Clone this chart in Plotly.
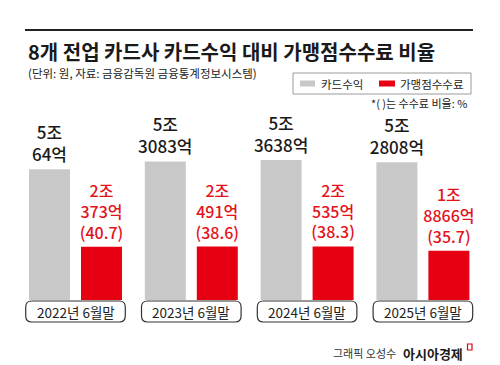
import plotly.graph_objects as go

# ---- data (unit: 억 원) ----
periods = ["2022년 6월말", "2023년 6월말", "2024년 6월말", "2025년 6월말"]
card_revenue = [50064, 53083, 53638, 52808]      # 카드수익
merchant_fee = [20373, 20491, 20535, 18866]      # 가맹점수수료
fee_ratio = [40.7, 38.6, 38.3, 35.7]             # 수수료 비율 (%)
series_names = ["카드수익", "가맹점수수료"]

FONT = "Noto Sans CJK KR"
GRAY = "#c8c8c8"
RED = "#e60012"
RED_TXT = "#e3121b"
OFF = 8                 # page body margin offset
W, H = 500 - OFF, 365 - OFF


def fmt(v):
    jo, eok = divmod(v, 10000)
    return f"{jo}조<br>{eok}억"


def px(xp):
    return (xp - OFF) / W


def py(yp):
    return (H - (yp - OFF)) / H


xs = list(range(len(periods)))
fig = go.Figure()
fig.add_bar(
    x=xs, y=[v / 10000 for v in card_revenue], name=series_names[0],
    marker=dict(color=GRAY, line=dict(width=0)),
    text=[fmt(v) for v in card_revenue], textposition="outside",
    textfont=dict(family=FONT, size=17, color="#1a1a1a", weight=500),
    constraintext="none", cliponaxis=False, showlegend=False,
)
fig.add_bar(
    x=xs, y=[v / 10000 for v in merchant_fee], name=series_names[1],
    marker=dict(color=RED, line=dict(width=0)),
    text=[f"{fmt(v)}<br>({r})" for v, r in zip(merchant_fee, fee_ratio)],
    textposition="outside",
    textfont=dict(family=FONT, size=16, color=RED_TXT, weight=500),
    constraintext="none", cliponaxis=False, showlegend=False,
)

shapes = []
annotations = []

UNIT = 115.8  # px per category
rx = 6 / UNIT
ry = 6 / H
for i in xs:
    x0, x1 = i - 0.43, i + 0.43
    y0, y1 = py(322), py(301)
    path = (f"M {x0+rx},{y1} L {x1-rx},{y1} Q {x1},{y1} {x1},{y1-ry} "
            f"L {x1},{y0+ry} Q {x1},{y0} {x1-rx},{y0} L {x0+rx},{y0} "
            f"Q {x0},{y0} {x0},{y0+ry} L {x0},{y1-ry} Q {x0},{y1} {x0+rx},{y1} Z")
    shapes.append(dict(type="path", xref="x", yref="paper", path=path,
                       line=dict(color="#333333", width=1.2), fillcolor="white",
                       layer="above"))
    annotations.append(dict(x=i, y=py(311.5), xref="x", yref="paper",
                            text=periods[i], showarrow=False,
                            font=dict(family=FONT, size=13.5, color="#222222"),
                            xanchor="center", yanchor="middle"))

# top rule
shapes.append(dict(type="line", xref="paper", yref="paper",
                   x0=px(25), x1=px(473), y0=py(30), y1=py(30),
                   line=dict(color="#222222", width=2)))

# title & subtitle
annotations.append(dict(x=px(26), y=py(51), xref="paper", yref="paper",
                        text="<b>8개 전업 카드사 카드수익 대비 가맹점수수료 비율</b>",
                        showarrow=False, xanchor="left", yanchor="middle",
                        font=dict(family=FONT, size=20, color="#1a1a1a")))
annotations.append(dict(x=px(26), y=py(73), xref="paper", yref="paper",
                        text="(단위: 원, 자료: 금융감독원 금융통계정보시스템)",
                        showarrow=False, xanchor="left", yanchor="middle",
                        font=dict(family=FONT, size=11.5, color="#222222")))

# legend box
shapes.append(dict(type="rect", xref="paper", yref="paper",
                   x0=px(293), x1=px(471), y0=py(94), y1=py(73),
                   line=dict(color="#9a9a9a", width=1), fillcolor="white"))
shapes.append(dict(type="rect", xref="paper", yref="paper",
                   x0=px(300), x1=px(315), y0=py(86.5), y1=py(80.5),
                   line=dict(width=0), fillcolor=GRAY))
shapes.append(dict(type="rect", xref="paper", yref="paper",
                   x0=px(379), x1=px(395), y0=py(86.5), y1=py(80.5),
                   line=dict(width=0), fillcolor=RED))
annotations.append(dict(x=px(319), y=py(83.5), xref="paper", yref="paper",
                        text=series_names[0], showarrow=False,
                        xanchor="left", yanchor="middle",
                        font=dict(family=FONT, size=11.5, color="#222222")))
annotations.append(dict(x=px(398), y=py(83.5), xref="paper", yref="paper",
                        text=series_names[1], showarrow=False,
                        xanchor="left", yanchor="middle",
                        font=dict(family=FONT, size=11.5, color="#222222")))
annotations.append(dict(x=px(469), y=py(103), xref="paper", yref="paper",
                        text="*( )는 수수료 비율: %", showarrow=False,
                        xanchor="right", yanchor="middle",
                        font=dict(family=FONT, size=11, color="#222222")))

# credit
annotations.append(dict(x=px(398), y=py(353), xref="paper", yref="paper",
                        text="그래픽 오성수", showarrow=False,
                        xanchor="right", yanchor="middle",
                        font=dict(family=FONT, size=11, color="#333333")))
annotations.append(dict(x=px(401), y=py(353), xref="paper", yref="paper",
                        text="<b>아시아경제</b>", showarrow=False,
                        xanchor="left", yanchor="middle",
                        font=dict(family=FONT, size=13, color="#1a1a1a")))
shapes.append(dict(type="rect", xref="paper", yref="paper",
                   x0=px(467.5), x1=px(472), y0=py(350), y1=py(344),
                   line=dict(color=RED, width=1.2), fillcolor="white"))

# x axis: group 0 centred at reference pixel 75.5
x_left = -(75.5 - OFF) / UNIT
fig.update_layout(
    width=W, height=H,
    margin=dict(l=0, r=0, t=0, b=0),
    paper_bgcolor="white", plot_bgcolor="white",
    barmode="group", bargap=0.102, bargroupgap=0.2115,
    xaxis=dict(range=[x_left, x_left + W / UNIT], domain=[0, 1], showgrid=False,
               zeroline=False, showline=False, showticklabels=False,
               fixedrange=True),
    yaxis=dict(range=[0, 200 / 26.1], domain=[(H - (300 - OFF)) / H, (H - (100 - OFF)) / H],
               visible=False, fixedrange=True),
    shapes=shapes, annotations=annotations,
    showlegend=False,
)

fig.write_html("out.html")
